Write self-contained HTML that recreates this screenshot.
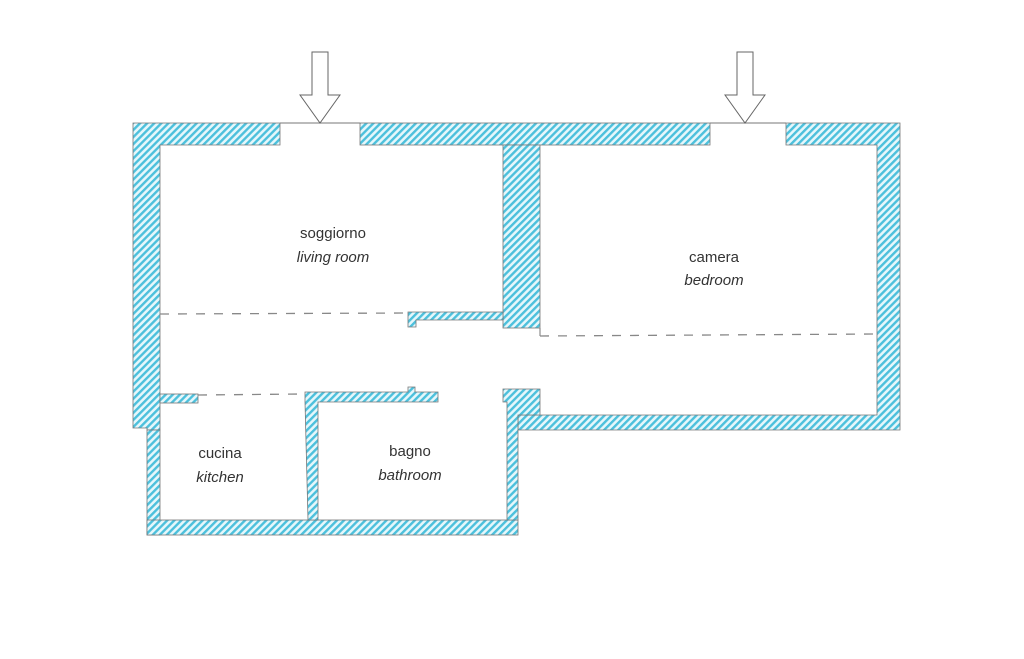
<!DOCTYPE html>
<html><head><meta charset="utf-8"><style>
html,body{margin:0;padding:0;background:#fff;}
svg{display:block;}
text{font-family:"Liberation Sans",Arial,sans-serif;font-size:15px;fill:#333;text-anchor:middle;}
</style></head><body>
<svg width="1024" height="659" viewBox="0 0 1024 659">
<defs>
<pattern id="h" patternUnits="userSpaceOnUse" width="5" height="5" patternTransform="rotate(45)">
<rect width="5" height="5" fill="#e6f7fb"/>
<rect width="2.4" height="5" fill="#4cc0dc"/>
</pattern>
</defs>
<g fill="url(#h)" stroke="#777" stroke-width="0.8">
<!-- top walls -->
<polygon points="133,123 280,123 280,145 160,145 160,430 147,430 147,428 133,428"/>
<rect x="360" y="123" width="350" height="22"/>
<polygon points="786,123 900,123 900,430 518,430 518,415 877,415 877,145 786,145"/>
<!-- middle wall -->
<rect x="503" y="145" width="37" height="183"/>
<!-- ledge -->
<polygon points="408,312 503,312 503,320 416,320 416,327 408,327"/>
<!-- left lower wall -->
<rect x="147" y="430" width="13" height="105"/>
<!-- bottom wall -->
<rect x="147" y="520" width="371" height="15"/>
<!-- bathroom right wall and stub -->
<polygon points="503,389 540,389 540,415 518,415 518,520 507,520 507,402 503,402"/>
<!-- kitchen ledge -->
<rect x="160" y="394" width="38" height="9"/>
<!-- bathroom top wall -->
<polygon points="305,392 408,392 408,387 415,387 415,392 438,392 438,402 318,402 318,520 308,520 305,402"/>
</g>
<!-- openings lines -->
<g stroke="#777" stroke-width="1" fill="none">
<line x1="280" y1="123" x2="360" y2="123"/>
<line x1="710" y1="123" x2="786" y2="123"/>
<line x1="540" y1="328" x2="540" y2="336"/>
</g>
<g stroke="#888" stroke-width="1.3" stroke-dasharray="9,9" fill="none">
<line x1="160" y1="314" x2="408" y2="313"/>
<line x1="198" y1="395" x2="305" y2="394"/>
<line x1="540" y1="336" x2="877" y2="334"/>
</g>
<!-- arrows -->
<g fill="#fff" stroke="#666" stroke-width="1">
<polygon points="312,52 328,52 328,95 340,95 320,123 300,95 312,95"/>
<polygon points="737,52 753,52 753,95 765,95 745,123 725,95 737,95"/>
</g>
<text x="333" y="238">soggiorno</text>
<text x="333" y="262" font-style="italic">living room</text>
<text x="714" y="262">camera</text>
<text x="714" y="285" font-style="italic">bedroom</text>
<text x="220" y="458">cucina</text>
<text x="220" y="482" font-style="italic">kitchen</text>
<text x="410" y="456">bagno</text>
<text x="410" y="480" font-style="italic">bathroom</text>
</svg>
</body></html>
